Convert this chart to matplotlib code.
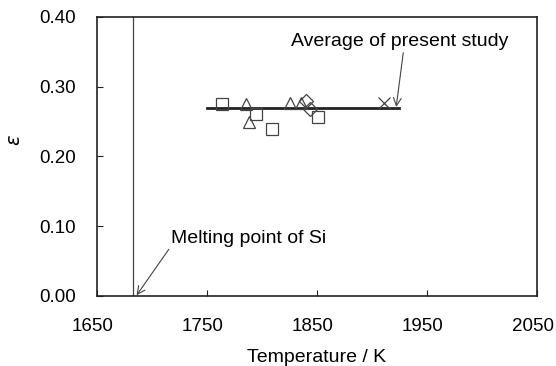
import numpy as np
import matplotlib.pyplot as plt
from matplotlib.transforms import ScaledTranslation

plt.rcParams['font.family'] = ['Liberation Sans', 'DejaVu Sans']

sq_T = [1764, 1794.5, 1809, 1850.5]
sq_eps = [0.275, 0.2605, 0.239, 0.257]
tri_T = [1785.5, 1788.5, 1825.5, 1835.5]
tri_eps = [0.275, 0.249, 0.276, 0.276]
dia_T = [1840, 1843.5]
dia_eps = [0.280, 0.268]
x_T = [1911]
x_eps = [0.276]

avg_T = [1750, 1925]
avg_eps = [0.270, 0.270]
melt_T = 1683

fig = plt.figure(figsize=(5.56, 3.66), dpi=100)
ax = fig.add_axes([0.1745, 0.1913, 0.7913, 0.7623])

ax.axvline(melt_T, color='#444444', lw=0.9)
ax.plot(avg_T, avg_eps, color='#222222', lw=2)
mk = dict(linestyle='none', markerfacecolor='none', markeredgecolor='#444444',
          markeredgewidth=0.9, markersize=8)
ax.plot(sq_T, sq_eps, marker='s', **mk)
ax.plot(tri_T, tri_eps, marker='^', **mk)
ax.plot(dia_T, dia_eps, marker='D', **dict(mk, markersize=7))
ax.plot(x_T, x_eps, marker='x', **dict(mk, markersize=9))

ax.set_xlim(1650, 2050)
ax.set_ylim(0, 0.40)
ax.set_xticks([1650, 1750, 1850, 1950, 2050])
ax.set_yticks([0, 0.1, 0.2, 0.3, 0.4])
ax.set_yticklabels(['0.00', '0.10', '0.20', '0.30', '0.40'])
ax.tick_params(direction='in', length=4, labelsize=13.5, color='#222222')
ax.tick_params(axis='y', pad=15)
ax.tick_params(axis='x', pad=16)
shift = ScaledTranslation(-0.04, 0, fig.dpi_scale_trans)
for lbl in ax.get_xticklabels():
    lbl.set_transform(lbl.get_transform() + shift)
for s in ax.spines.values():
    s.set_linewidth(1.2)
    s.set_color('#222222')

ax.set_xlabel('Temperature / K', fontsize=14)
ax.xaxis.set_label_coords(0.5, -0.19)
ax.set_ylabel(r'$\varepsilon$', fontsize=14)
ax.yaxis.set_label_coords(-0.165, 0.56)

ax.annotate('Average of present study', xy=(1922, 0.271), xytext=(1826, 0.365),
            fontsize=14, va='center', ha='left',
            arrowprops=dict(arrowstyle='->', color='#444444', lw=0.8, shrinkA=0, shrinkB=0,
                            relpos=(0.52, 0)))
ax.annotate('Melting point of Si', xy=(1686, 0.001), xytext=(1717, 0.083),
            fontsize=14, va='center', ha='left',
            arrowprops=dict(arrowstyle='->', color='#444444', lw=0.8, shrinkA=0, shrinkB=0,
                            relpos=(0, 0)))

fig.savefig('out.png', dpi=100)
